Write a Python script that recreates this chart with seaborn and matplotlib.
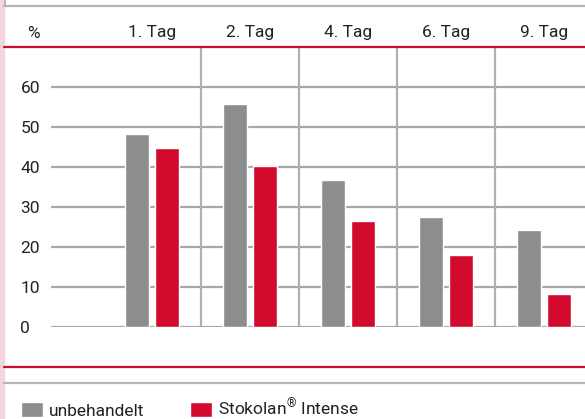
import pandas as pd
import seaborn as sns
import matplotlib.pyplot as plt
from matplotlib.lines import Line2D
from matplotlib.patches import Rectangle

days = ["1. Tag", "2. Tag", "4. Tag", "6. Tag", "9. Tag"]
unbehandelt = [48.3, 55.8, 36.7, 27.5, 24.2]
stokolan = [44.8, 40.2, 26.5, 17.9, 8.2]
series = ["unbehandelt", "Stokolan$^{\\mathrm{\u00ae}}$ Intense"]
yticks = [0, 10, 20, 30, 40, 50, 60]

gray = "#8c8e8d"
red = "#d20a2e"
grid = "#a8a8a8"
txt = "#222222"

df = pd.DataFrame({
    "Tag": days * 2,
    "Wert": unbehandelt + stokolan,
    "Gruppe": [series[0]] * len(days) + [series[1]] * len(days),
})

sns.set_style("white")
plt.rcParams["font.family"] = ["Roboto", "DejaVu Sans"]
plt.rcParams["mathtext.fontset"] = "custom"
plt.rcParams["mathtext.rm"] = "Roboto"
plt.rcParams["mathtext.it"] = "Roboto:italic"

W, H = 585, 419
fig = plt.figure(figsize=(W / 100, H / 100), dpi=100)
ax = fig.add_axes([51 / W, 1 - 327 / H, 1 - 51 / W, (327 - 47) / H])

# grid lines behind the bars
for y in yticks:
    ax.axhline(y, color=grid, lw=1.6, zorder=0)
for x in [0.5, 1.5, 2.5, 3.5]:
    ax.axvline(x, color="#b0b0b0", lw=1.6, zorder=0)

sns.barplot(data=df, x="Tag", y="Wert", hue="Gruppe", palette=[gray, red],
            width=0.612, gap=0.23, saturation=1, ax=ax, zorder=2)

ax.set_xlim(-1.031, 4.418)
ax.set_ylim(0, 70)
for s in ax.spines.values():
    s.set_visible(False)
ax.set_xlabel("")
ax.set_ylabel("")

ax.xaxis.tick_top()
ax.tick_params(axis="x", length=0, pad=5, labelsize=12.5, labelcolor=txt)
ax.set_yticks(yticks)
ax.set_yticklabels([str(v) for v in yticks])
ax.tick_params(axis="y", length=0, pad=22, labelsize=12.5, labelcolor=txt)
for lab in ax.get_yticklabels():
    lab.set_horizontalalignment("left")

fig.text(33 / W, 1 - 33 / H, "%", ha="center", va="center", fontsize=12.5, color=txt)

# frame decorations
fig.patches.append(Rectangle((0, 0), 4 / W, 1, transform=fig.transFigure,
                             color="#f3d6d9", zorder=0))
fig.lines.append(Line2D([4.5 / W] * 2, [1, 1 - 6 / H], transform=fig.transFigure,
                        color="#b4b4b4", lw=1.4))
fig.lines.append(Line2D([4 / W, 1], [1 - 6 / H] * 2, transform=fig.transFigure,
                        color="#b4b4b4", lw=1.6))
fig.lines.append(Line2D([4 / W, 1], [1 - 47 / H] * 2, transform=fig.transFigure,
                        color="#c8102e", lw=1.6))
fig.lines.append(Line2D([4 / W, 1], [1 - 367 / H] * 2, transform=fig.transFigure,
                        color="#c8102e", lw=1.6))
fig.lines.append(Line2D([4 / W, 1], [1 - 383 / H] * 2, transform=fig.transFigure,
                        color="#b4b4b4", lw=1.6))

handles, labels = ax.get_legend_handles_labels()
ax.legend(handles, labels, loc="center left", bbox_to_anchor=(21 / W, 1 - 408 / H),
          bbox_transform=fig.transFigure, ncol=2, frameon=False, fontsize=12.5,
          handlelength=1.27, handleheight=0.95, handletextpad=0.35,
          columnspacing=2.6, borderpad=0, borderaxespad=0, labelcolor=txt)

fig.savefig("out.png", dpi=100)
